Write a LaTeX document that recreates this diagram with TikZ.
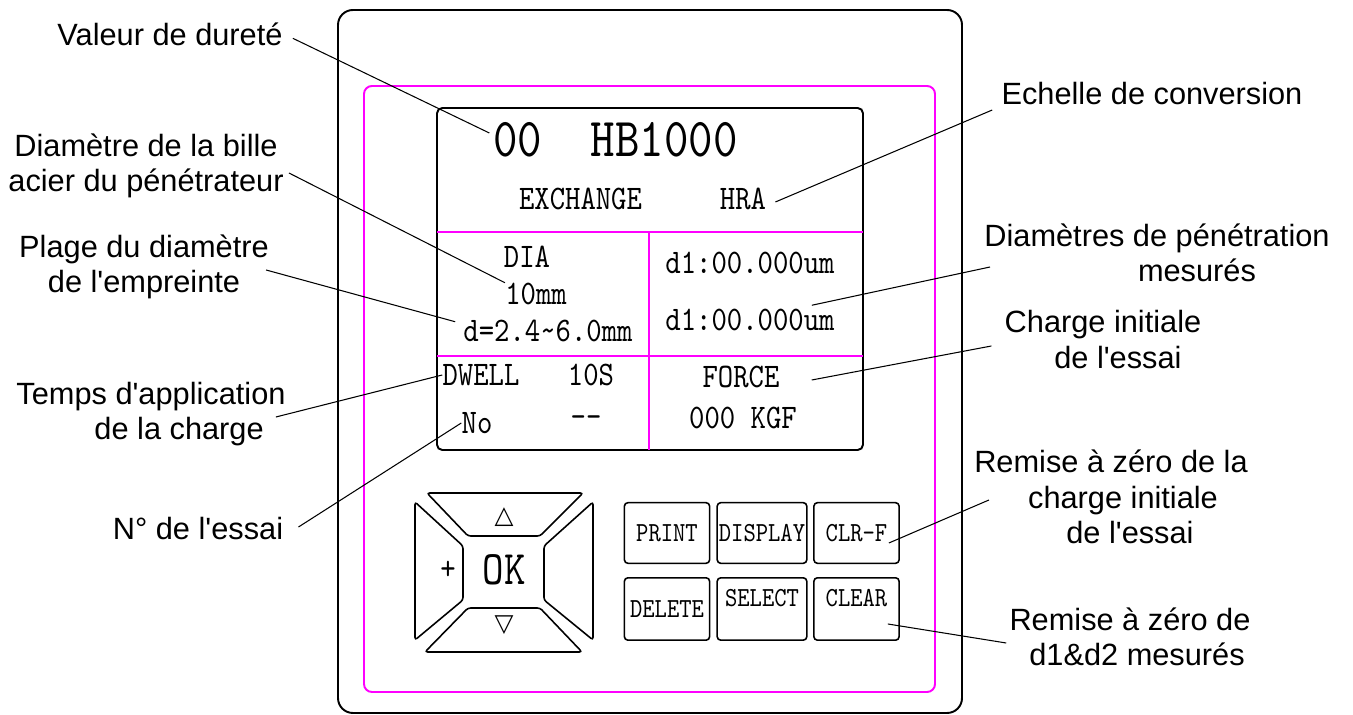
\documentclass[tikz,border=0pt]{standalone}
\usepackage{fontspec}
\setmainfont{Liberation Sans}[Ligatures=TeXOff]
\newfontfamily\lcdfont{lmmono10-regular.otf}[FakeStretch=0.85,Ligatures=TeXOff]
\newfontfamily\symfont{DejaVu Sans}
\usepackage{tikz}
\definecolor{panelpink}{HTML}{FF00FF}
\tikzset{
  callout/.style={align=center,inner sep=0pt,font=\fontsize{17.5pt}{20.3pt}\selectfont},
  lcdtext/.style={inner sep=0pt,font=\lcdfont\fontsize{19.6pt}{23pt}\selectfont},
  keycap/.style={draw,line width=0.9pt,rounded corners=2pt,inner sep=0pt,
    minimum width=48.5pt,minimum height=34.5pt,font=\lcdfont\fontsize{15.7pt}{18pt}\selectfont},
  leader/.style={line width=0.6pt},
}

\begin{document}
\begin{tikzpicture}[x=0.02cm,y=-0.02cm]
  \useasboundingbox (0,0) rectangle (1353,715);
  % housing and panel
  \draw[line width=1.1pt,rounded corners=8.5pt] (338,10) rectangle (962,713);
  \draw[panelpink,line width=1.1pt,rounded corners=4.5pt] (364,86) rectangle (935,692);
  % display
  \draw[line width=1.1pt,rounded corners=3pt] (437,108) rectangle (863,450);
  \draw[panelpink,line width=1pt] (437,232) -- (863,232) (437,356) -- (863,356) (649,232) -- (649,450);

  \node[lcdtext,font=\lcdfont\fontsize{31.2pt}{34pt}\selectfont] (hb) at (615.5,140) {00~~HB1000};
  \node[lcdtext] (exch) at (580.5,199) {EXCHANGE};
  \node[lcdtext] (hra) at (743,199) {HRA};
  \node[lcdtext] (dia) at (527,257) {DIA};
  \node[lcdtext] (tenmm) at (536,294) {10mm};
  \node[lcdtext] (range) at (548,331) {d=2.4\textasciitilde6.0mm};
  \node[lcdtext] (d1a) at (750,263) {d1:00.000um};
  \node[lcdtext] (d1b) at (750,320) {d1:00.000um};
  \node[lcdtext] (dwell) at (481,375) {DWELL};
  \node[lcdtext] (dwelltime) at (591,375) {10S};
  \node[lcdtext] (force) at (741,377) {FORCE};
  \node[lcdtext] (kgf) at (743,418) {000 KGF};
  \node[lcdtext] (no) at (477,423) {No};
  \node[lcdtext] (nodash) at (586,422) {\mbox{-}\mbox{-}};

  % arrow pad
  \begin{scope}[line width=0.9pt,rounded corners=1.5pt]
    \draw (427,493) -- (583,493) -- (540,536) -- (468,536) -- cycle;
    \draw (425,652) -- (582,652) -- (540,608) -- (468,608) -- cycle;
    \draw (415,502) -- (463,546) -- (463,600) -- (415,640) -- cycle;
    \draw (593,502) -- (544,546) -- (544,600) -- (593,640) -- cycle;
  \end{scope}
  \node[inner sep=0pt,font=\symfont\fontsize{14pt}{16pt}\selectfont] (up) at (504,517) {△};
  \node[inner sep=0pt,font=\symfont\fontsize{14pt}{16pt}\selectfont] (down) at (504,625) {▽};
  \node[lcdtext] (plus) at (448,570) {+};
  \node[lcdtext,font=\lcdfont\fontsize{27.4pt}{30pt}\selectfont] (ok) at (504,570) {OK};

  % keys
  \node[keycap] (bPrint) at (667,533) {PRINT};
  \node[keycap,minimum width=51pt] (bDisplay) at (762,533) {DISPLAY};
  \node[keycap] (bClrf) at (856.5,533) {CLR-F};
  \node[keycap,minimum height=35.5pt] (bDelete) at (667,609) {DELETE};
  \node[keycap,minimum width=51pt,minimum height=35.5pt] (bSelect) at (762,609) {\raisebox{12.5pt}{SELECT}};
  \node[keycap,minimum height=35.5pt] (bClear) at (856.5,609) {\raisebox{13pt}{CLEAR}};

  % callouts
  \node[callout,anchor=base] (valeur) at (170,46) {Valeur de dureté};
  \node[callout] (diam) at (146,166) {Diamètre de la bille\\acier du pénétrateur};
  \node[callout] (plage) at (144,267) {Plage du diamètre\\de l'empreinte};
  \node[callout] (temps) at (151,414) {Temps d'application\\\hspace*{32pt}de la charge};
  \node[callout,anchor=base] (essai) at (198,540) {N° de l'essai};
  \node[callout,anchor=base] (echelle) at (1152,105) {Echelle de conversion};
  \node[callout] (diams) at (1157,253) {Diamètres de pénétration\\\hspace*{45.5pt}mesurés};
  \node[callout] (charge) at (1103,339.5) {Charge initiale\\\hspace*{17pt}de l'essai};
  \node[callout] (razf) at (1111,497) {Remise à zéro de la\\\hspace*{13.7pt}charge initiale\\\hspace*{21.6pt}de l'essai};
  \node[callout] (razd) at (1130,637) {Remise à zéro de\\\hspace*{8pt}d1\&d2 mesurés};

  \draw[leader] ([shift={(10,3.5)}]valeur.east) -- ([shift={(-3.5,-7)}]hb.west);
  \draw[leader] ([shift={(5,7)}]diam.east) -- (tenmm.north west);
  \draw[leader] ([shift={(-3,3)}]plage.east) -- ([shift={(-8,2)}]range.north west);
  \draw[leader] ([shift={(-10,3)}]temps.east) -- (dwell.west);
  \draw[leader] ([shift={(15,-2)}]essai.east) -- (no.west);
  \draw[leader] ([shift={(-9,16)}]echelle.west) -- ([shift={(9,3)}]hra.east);
  \draw[leader] ([shift={(6,14)}]diams.west) -- ([shift={(-23,-3.5)}]d1b.north east);
  \draw[leader] ([shift={(-13,6.5)}]charge.west) -- ([shift={(32,3)}]force.east);
  \draw[leader] ([shift={(15,3)}]razf.west) -- ([shift={(-11,10)}]bClrf.east);
  \draw[leader] ([shift={(-3,6)}]razd.west) -- ([shift={(-12,15)}]bClear.east);
\end{tikzpicture}
\end{document}
